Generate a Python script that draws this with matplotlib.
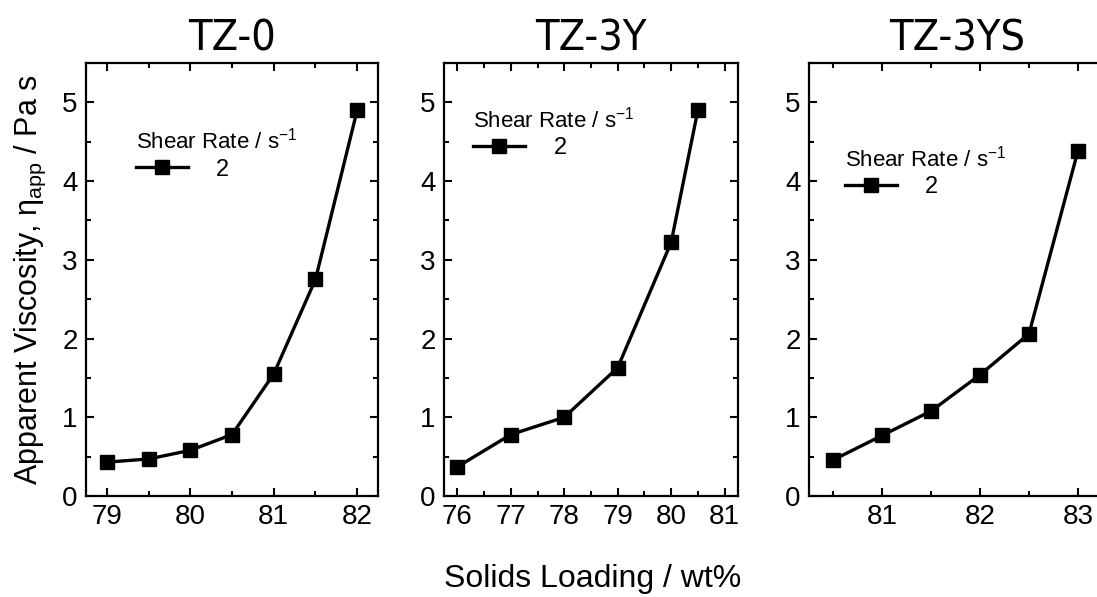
import numpy as np
import matplotlib
matplotlib.use('Agg')
from matplotlib import pyplot as plt
from matplotlib import font_manager
from matplotlib.ticker import MultipleLocator

# data
titles = ['TZ-0', 'TZ-3Y', 'TZ-3YS']
x_tz0 = [79.0, 79.5, 80.0, 80.5, 81.0, 81.5, 82.0]
y_tz0 = [0.43, 0.47, 0.58, 0.78, 1.55, 2.75, 4.90]
x_tz3y = [76.0, 77.0, 78.0, 79.0, 80.0, 80.5]
y_tz3y = [0.37, 0.78, 1.00, 1.63, 3.22, 4.90]
x_tz3ys = [80.5, 81.0, 81.5, 82.0, 82.5, 83.0]
y_tz3ys = [0.46, 0.77, 1.08, 1.54, 2.06, 4.38]
shear_rate = '2'

plt.rcParams['font.family'] = ['Liberation Sans', 'DejaVu Sans']
plt.rcParams['mathtext.fontset'] = 'custom'
plt.rcParams['mathtext.rm'] = 'Liberation Sans'
plt.rcParams['mathtext.it'] = 'Liberation Sans:italic'

# narrow face for the panel titles, if one is around
names = set(f.name for f in font_manager.fontManager.ttflist)
if 'Liberation Sans Narrow' in names:
  title_font = dict(family='Liberation Sans Narrow')
else:
  title_font = dict(family='DejaVu Sans', stretch='condensed')

fig = plt.figure(figsize=(10.97, 5.97), dpi=100)

# axes boxes in figure fraction (left, bottom, width, height)
boxes = [(0.0784, 0.1692, 0.2662, 0.7253),
         (0.4047, 0.1692, 0.2680, 0.7253),
         (0.7375, 0.1692, 0.2700, 0.7253)]
xlims = [(78.75, 82.25), (75.75, 81.25), (80.25, 83.28)]
legpos = [(0.17, 0.85), (0.10, 0.90), (0.12, 0.81)]
series = [(x_tz0, y_tz0), (x_tz3y, y_tz3y), (x_tz3ys, y_tz3ys)]

for i in range(3):
  ax = fig.add_axes(boxes[i])
  xs, ys = series[i]
  ax.plot(xs, ys, color='black', lw=2.4, marker='s', ms=10,
          label=shear_rate)
  ax.set_xlim(*xlims[i])
  ax.set_ylim(0, 5.5)
  ax.xaxis.set_major_locator(MultipleLocator(1))
  ax.xaxis.set_minor_locator(MultipleLocator(0.5))
  ax.yaxis.set_major_locator(MultipleLocator(1))
  ax.yaxis.set_minor_locator(MultipleLocator(0.5))
  ax.tick_params(which='both', direction='in', top=True, right=True,
                 width=1.5, labelsize=20, pad=6)
  ax.tick_params(which='major', length=6)
  ax.tick_params(which='minor', length=3.5)
  for s in ax.spines.values():
    s.set_linewidth(1.6)
  ax.set_title(titles[i], fontsize=31, pad=9, **title_font)
  leg = ax.legend(title='Shear Rate / s$^{-1}$', loc='upper left',
                  bbox_to_anchor=legpos[i], frameon=False, fontsize=17,
                  title_fontsize=16, alignment='left', borderpad=0,
                  borderaxespad=0, handlelength=2.2, handletextpad=1.2,
                  labelspacing=0.2)

fig.text(0.028, 0.531, r'Apparent Viscosity, $\mathrm{\eta}_{\mathrm{app}}$ / Pa s',
         rotation=90, ha='center', va='center', fontsize=22)
fig.text(0.54, 0.03, 'Solids Loading / wt%', ha='center', va='center',
         fontsize=23)

fig.savefig('out.png', dpi=100)
